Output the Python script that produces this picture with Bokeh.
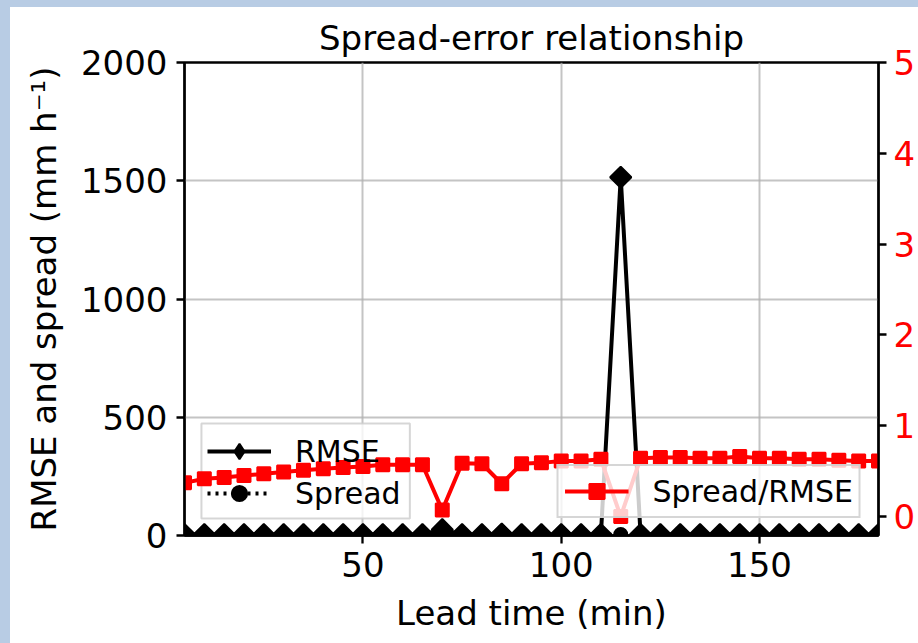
import numpy as np
from bokeh.plotting import figure
from bokeh.models import Range1d, LinearAxis, FixedTicker, Legend, LegendItem
from bokeh.embed import file_html
from bokeh.resources import INLINE

# ---- data ----
lead_time = [5, 10, 15, 20, 25, 30, 35, 40, 45, 50, 55, 60, 65, 70, 75, 80, 85, 90,
             95, 100, 105, 110, 115, 120, 125, 130, 135, 140, 145, 150, 155, 160, 165,
             170, 175, 180]
rmse = [4.0, 4.1, 4.0, 4.2, 4.1, 4.0, 4.1, 4.2, 4.1, 4.0, 4.1, 4.2, 4.1, 25.0, 4.0, 4.1,
        6.0, 4.2, 4.1, 4.0, 4.1, 4.0, 1515.0, 4.0, 4.1, 4.0, 4.1, 4.0, 4.1, 4.0, 4.1, 4.0,
        4.1, 4.0, 4.1, 4.0]
spread = [1.5, 1.7, 1.7, 1.9, 1.9, 2.0, 2.1, 2.2, 2.2, 2.2, 2.3, 2.4, 2.3, 1.8, 2.3, 2.4,
          2.2, 2.4, 2.4, 2.4, 2.5, 2.5, 4.0, 2.6, 2.7, 2.6, 2.6, 2.6, 2.7, 2.6, 2.6, 2.5,
          2.6, 2.5, 2.5, 2.4]
ratio = [0.37, 0.415, 0.43, 0.45, 0.47, 0.49, 0.51, 0.525, 0.54, 0.55, 0.57, 0.57, 0.57,
         0.07, 0.585, 0.58, 0.36, 0.58, 0.59, 0.61, 0.61, 0.63, 0.0, 0.64, 0.65, 0.65,
         0.64, 0.64, 0.66, 0.64, 0.64, 0.63, 0.63, 0.62, 0.61, 0.61]

x_ticks = [50, 100, 150]
y_ticks = [0, 500, 1000, 1500, 2000]
ratio_ticks = [0, 1, 2, 3, 4, 5]

title_text = "Spread-error relationship"
x_label = "Lead time (min)"
y_label = "RMSE and spread (mm h\u207b\u00b9)"

FONT = "DejaVu Sans"
AX_W = 2.3

# ---- layout (pixels) ----
W, H = 918, 643
B_LEFT, B_RIGHT, B_TOP, B_BOTTOM = 184, 38, 62, 108
FRAME_W = W - B_LEFT - B_RIGHT
FRAME_H = H - B_TOP - B_BOTTOM
X0, X1 = 5, 180
Y0, Y1 = 0, 2000

p = figure(width=W, height=H, output_backend="svg", toolbar_location=None,
           x_range=Range1d(X0, X1), y_range=Range1d(Y0, Y1),
           min_border_left=B_LEFT, min_border_right=B_RIGHT, min_border_top=B_TOP,
           min_border_bottom=B_BOTTOM,
           styles={"background-color": "white",
                   "box-shadow": "inset 10px 7px 0 0 #b8cce4"})
p.extra_y_ranges = {"ratio": Range1d(-0.21, 5)}

p.background_fill_color = "white"
p.border_fill_alpha = 0.0
p.outline_line_color = "black"
p.outline_line_width = AX_W

p.title.text = title_text
p.title.text_font = FONT
p.title.text_font_size = "34px"
p.title.text_font_style = "normal"
p.title.text_color = "black"
p.title.align = "center"
p.title.standoff = 10

ax2 = LinearAxis(y_range_name="ratio")
p.add_layout(ax2, "right")

for ax in [p.xaxis[0], p.yaxis[0], ax2]:
    ax.axis_line_width = AX_W
    ax.axis_line_color = "black"
    ax.major_tick_line_width = AX_W
    ax.major_tick_line_color = "black"
    ax.major_tick_out = 8
    ax.major_tick_in = 0
    ax.minor_tick_line_color = None
    ax.major_label_text_font = FONT
    ax.major_label_text_font_size = "34px"
    ax.major_label_text_color = "black"
    ax.axis_label_text_font = FONT
    ax.axis_label_text_font_size = "34px"
    ax.axis_label_text_font_style = "normal"
    ax.axis_label_text_color = "black"

p.xaxis[0].ticker = FixedTicker(ticks=x_ticks)
p.yaxis[0].ticker = FixedTicker(ticks=y_ticks)
ax2.ticker = FixedTicker(ticks=ratio_ticks)
ax2.major_label_text_color = "red"

p.xaxis[0].axis_label = x_label
p.yaxis[0].axis_label = y_label
p.xaxis[0].major_label_standoff = 8
p.xaxis[0].axis_label_standoff = 13
p.yaxis[0].major_label_standoff = 9
p.yaxis[0].axis_label_standoff = 14
ax2.major_label_standoff = 7

p.xgrid.grid_line_color = "#b0b0b0"
p.xgrid.grid_line_alpha = 0.75
p.xgrid.grid_line_width = 2
p.ygrid.grid_line_color = "#b0b0b0"
p.ygrid.grid_line_alpha = 0.75
p.ygrid.grid_line_width = 2

LW = 4
MS = 13

r_line = p.line(lead_time, rmse, line_color="black", line_width=LW)
r_mark = p.scatter(lead_time, rmse, marker="square", angle=np.pi / 4, size=15,
                   fill_color="black", line_color="black", line_width=2)
# same points again as plain diamonds (hidden inside the rotated squares) for the legend key
r_key = p.scatter(lead_time, rmse, marker="diamond", size=16,
                  fill_color="black", line_color="black", line_width=2)
s_line = p.line(lead_time, spread, line_color="black", line_width=LW, line_dash="3 5")
s_mark = p.scatter(lead_time, spread, marker="circle", size=MS,
                   fill_color="black", line_color="black", line_width=2)

# frame of the left legend, drawn as a glyph so the right-axis series lies on top of it
LEG_L, LEG_R, LEG_B, LEG_T = 17, 226, 17, 112   # pixels from frame's left / bottom
sx = (X1 - X0) / FRAME_W
sy = (Y1 - Y0) / FRAME_H
leg_box = p.quad(left=X0 + LEG_L * sx, right=X0 + LEG_R * sx,
                 bottom=Y0 + LEG_B * sy, top=Y0 + LEG_T * sy,
                 fill_color="white", fill_alpha=0.8,
                 line_color="#cccccc", line_alpha=0.8, line_width=2)

q_line = p.line(lead_time, ratio, line_color="red", line_width=LW, y_range_name="ratio")
q_mark = p.scatter(lead_time, ratio, marker="square", size=MS, fill_color="red",
                   line_color="red", line_width=2, y_range_name="ratio")


def style_legend(leg):
    leg.label_text_font = FONT
    leg.label_text_font_size = "30px"
    leg.label_text_color = "black"
    leg.glyph_width = 64
    leg.glyph_height = 38
    leg.label_height = 38
    leg.label_standoff = 24
    leg.padding = 6
    leg.spacing = 4
    leg.margin = 17
    leg.border_line_color = "#cccccc"
    leg.border_line_width = 2
    leg.border_line_alpha = 0.8
    leg.background_fill_color = "white"
    leg.background_fill_alpha = 0.8


leg1 = Legend(items=[LegendItem(label="RMSE", renderers=[r_line, r_key]),
                     LegendItem(label="Spread", renderers=[s_line, s_mark])],
              location="bottom_left")
style_legend(leg1)
leg1.background_fill_alpha = 0.0
leg1.border_line_alpha = 0.0

leg2 = Legend(items=[LegendItem(label="Spread/RMSE", renderers=[q_line, q_mark])],
              location="bottom_right")
style_legend(leg2)

p.add_layout(leg1)
p.add_layout(leg2)

open("out.html", "w").write(file_html(p, INLINE))
